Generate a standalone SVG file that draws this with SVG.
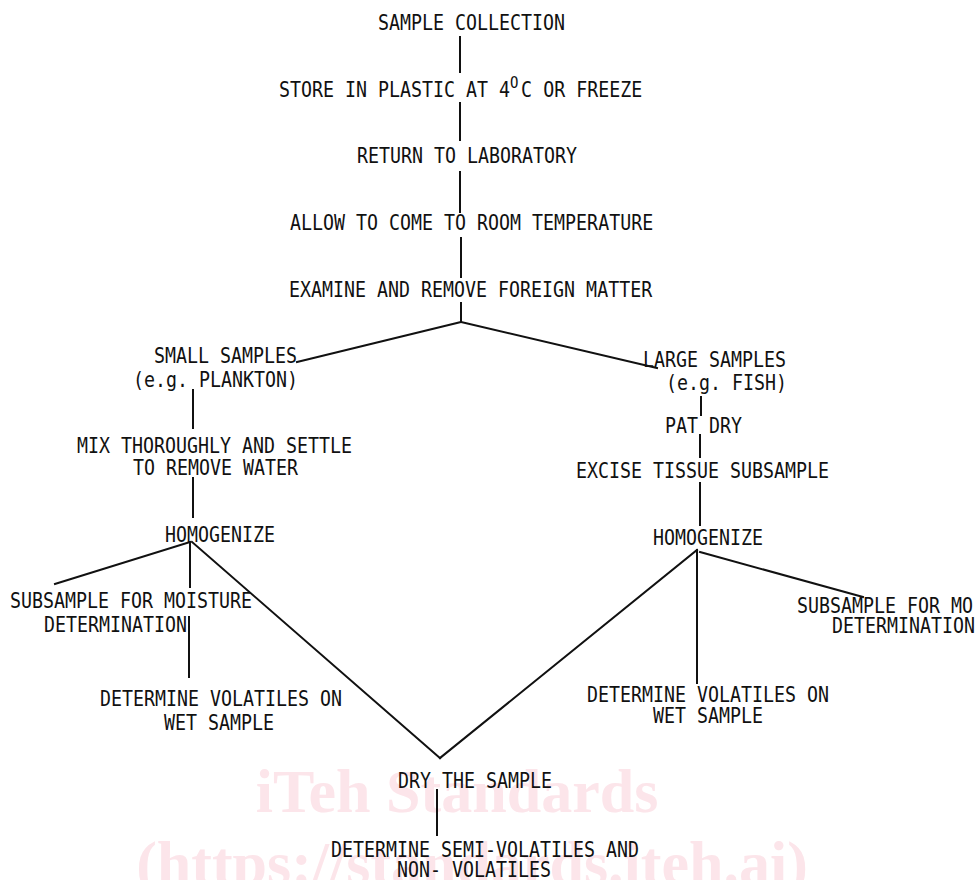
<svg xmlns="http://www.w3.org/2000/svg" width="976" height="880" viewBox="0 0 976 880">
<style>
.t{font-family:"DejaVu Sans Mono","Liberation Mono",monospace;font-size:18.3px;fill:#111;}
.wm{font-family:"Liberation Serif","DejaVu Serif",serif;font-weight:bold;font-size:62px;fill:#fce5ea;}
.c line{stroke:#111;stroke-width:2;stroke-linecap:square;}
</style>
<rect width="976" height="880" fill="#fff"/>
<g id="watermark">
<text class="wm" x="457" y="812" text-anchor="middle">iTeh Standards</text>
<text class="wm" x="472" y="884" text-anchor="middle">(https://standards.iteh.ai)</text>
</g>
<g id="connectors" class="c">
<line x1="460" y1="37" x2="460" y2="72"/>
<line x1="460" y1="103" x2="460" y2="140"/>
<line x1="460" y1="172" x2="460" y2="212"/>
<line x1="461" y1="238" x2="461" y2="277"/>
<line x1="461" y1="303" x2="461" y2="322"/>
<line x1="461" y1="322" x2="297" y2="362"/>
<line x1="461" y1="322" x2="657" y2="368"/>
<line x1="193" y1="390" x2="193" y2="428"/>
<line x1="193" y1="478" x2="193" y2="517"/>
<line x1="701" y1="397" x2="701" y2="415"/>
<line x1="700" y1="435" x2="700" y2="457"/>
<line x1="700" y1="483" x2="700" y2="525"/>
<line x1="190" y1="542" x2="55" y2="584"/>
<line x1="190" y1="542" x2="190" y2="587"/>
<line x1="189" y1="617" x2="189" y2="677"/>
<line x1="192" y1="542" x2="440" y2="758"/>
<line x1="697" y1="550" x2="440" y2="758"/>
<line x1="697" y1="550" x2="697" y2="683"/>
<line x1="700" y1="552" x2="863" y2="597"/>
<line x1="437" y1="790" x2="437" y2="835"/>
</g>
<g id="n1"><text class="t" transform="translate(378,30) scale(1,1.12)">SAMPLE COLLECTION</text></g>
<g id="n2"><text class="t" transform="translate(279,97) scale(1,1.12)">STORE IN PLASTIC AT 4<tspan font-size="14" dy="-8">O</tspan><tspan dy="8" dx="2.6">C OR FREEZE</tspan></text></g>
<g id="n3"><text class="t" transform="translate(357,163) scale(1,1.12)">RETURN TO LABORATORY</text></g>
<g id="n4"><text class="t" transform="translate(290,230) scale(1,1.12)">ALLOW TO COME TO ROOM TEMPERATURE</text></g>
<g id="n5"><text class="t" transform="translate(289,297) scale(1,1.12)">EXAMINE AND REMOVE FOREIGN MATTER</text></g>
<g id="n6">
<text class="t" transform="translate(154,363) scale(1,1.12)">SMALL SAMPLES</text>
<text class="t" transform="translate(133,387) scale(1,1.12)">(e.g. PLANKTON)</text>
</g>
<g id="n7">
<text class="t" transform="translate(643,367) scale(1,1.12)">LARGE SAMPLES</text>
<text class="t" transform="translate(666,390) scale(1,1.12)">(e.g. FISH)</text>
</g>
<g id="n8">
<text class="t" transform="translate(77,453) scale(1,1.12)">MIX THOROUGHLY AND SETTLE</text>
<text class="t" transform="translate(133,475) scale(1,1.12)">TO REMOVE WATER</text>
</g>
<g id="n9"><text class="t" transform="translate(665,433) scale(1,1.12)">PAT DRY</text></g>
<g id="n10"><text class="t" transform="translate(576,478) scale(1,1.12)">EXCISE TISSUE SUBSAMPLE</text></g>
<g id="n11"><text class="t" transform="translate(165,542) scale(1,1.12)">HOMOGENIZE</text></g>
<g id="n12"><text class="t" transform="translate(653,545) scale(1,1.12)">HOMOGENIZE</text></g>
<g id="n13">
<text class="t" transform="translate(10,608) scale(1,1.12)">SUBSAMPLE FOR MOISTURE</text>
<text class="t" transform="translate(44,632) scale(1,1.12)">DETERMINATION</text>
</g>
<g id="n14">
<text class="t" transform="translate(100,706) scale(1,1.12)">DETERMINE VOLATILES ON</text>
<text class="t" transform="translate(164,730) scale(1,1.12)">WET SAMPLE</text>
</g>
<g id="n15">
<text class="t" transform="translate(797,613) scale(1,1.12)">SUBSAMPLE FOR MO</text>
<text class="t" transform="translate(832,633) scale(1,1.12)">DETERMINATION</text>
</g>
<g id="n16">
<text class="t" transform="translate(587,702) scale(1,1.12)">DETERMINE VOLATILES ON</text>
<text class="t" transform="translate(653,723) scale(1,1.12)">WET SAMPLE</text>
</g>
<g id="n17"><text class="t" transform="translate(398,788) scale(1,1.12)">DRY THE SAMPLE</text></g>
<g id="n18">
<text class="t" transform="translate(331,857) scale(1,1.12)">DETERMINE SEMI-VOLATILES AND</text>
<text class="t" transform="translate(397,877) scale(1,1.12)">NON- VOLATILES</text>
</g>
</svg>
